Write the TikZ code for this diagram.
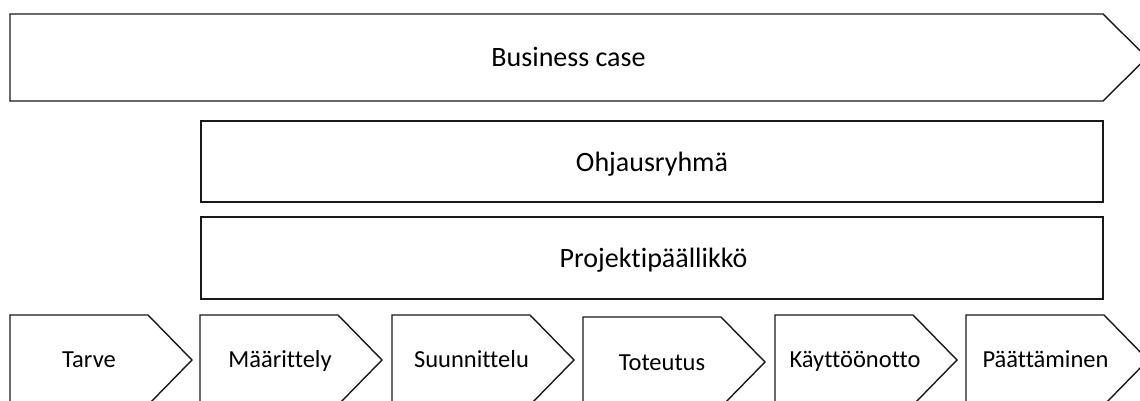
\documentclass[tikz,border=0pt]{standalone}
\usepackage{fontspec}
\setmainfont{Carlito}[Ligatures={NoCommon}]
\begin{document}
\begin{tikzpicture}[x=1pt,y=-1pt,
  shp/.style={draw=black!90,line width=1.4pt,line join=miter,fill=white},
  lbl/.style={font=\fontsize{28}{30}\selectfont,inner sep=0pt,anchor=base},
  clbl/.style={font=\fontsize{24.5}{27}\selectfont,inner sep=0pt,anchor=base}]
\useasboundingbox (0,0) rectangle (1140,401);
\clip (0,0) rectangle (1140,401);
\fill[white] (0,0) rectangle (1140,401);
% Business case arrow
\draw[shp] (10,14) -- (1103,14) -- (1147,57.5) -- (1103,101) -- (10,101) -- cycle;
\node[lbl] (bc) at (568.5,67) {Business case};
% Ohjausryhmä
\draw[shp] (201,121) rectangle (1103,202);
\node[lbl] (oh) at (652,171) {Ohjausryhmä};
% Projektipäällikkö
\draw[shp] (201,217) rectangle (1103,299);
\node[lbl] (pp) at (653.5,267) {Projektipäällikkö};
% chevrons
\foreach \l/\t/\n in {10/315/c1,200/315/c2,392/315/c3,583/317/c4,775/315/c5,966/315/c6}{
  \draw[shp] (\l,\t) -- (\l+138,\t) -- (\l+182,\t+45) -- (\l+138,\t+90) -- (\l,\t+90) -- cycle;
}
\node[clbl] (t1) at (89,367) {Tarve};
\node[clbl] (t2) at (280,367) {Määrittely};
\node[clbl] (t3) at (471.5,367) {Suunnittelu};
\node[clbl] (t4) at (662,370) {Toteutus};
\node[clbl] (t5) at (855,367) {Käyttöönotto};
\node[clbl] (t6) at (1045.5,367) {Päättäminen};
\end{tikzpicture}
\end{document}
